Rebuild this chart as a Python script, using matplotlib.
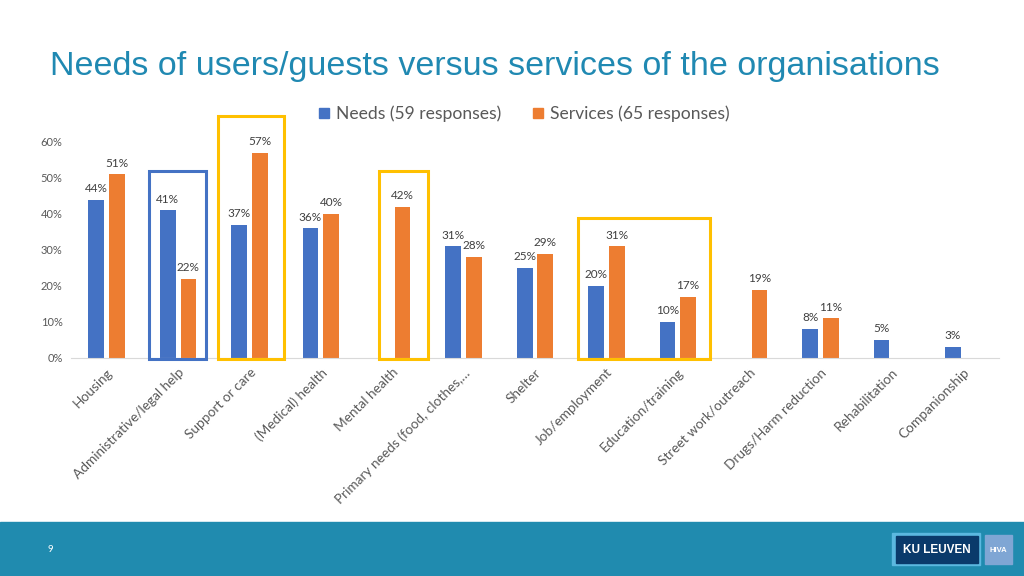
import matplotlib
matplotlib.use("Agg")
import matplotlib.pyplot as plt
from matplotlib.patches import Rectangle

plt.rcParams['font.family'] = ['Lato', 'DejaVu Sans']

# data (percent of respondents)
categories = ['Housing', 'Administrative/legal help', 'Support or care', '(Medical) health',
              'Mental health', 'Primary needs (food, clothes,…', 'Shelter', 'Job/employment',
              'Education/training', 'Street work/outreach', 'Drugs/Harm reduction',
              'Rehabilitation', 'Companionship']
needs = [44, 41, 37, 36, None, 31, 25, 20, 10, None, 8, 5, 3]
services = [51, 22, 57, 40, 42, 28, 29, 31, 17, 19, 11, None, None]
yticks = [0, 10, 20, 30, 40, 50, 60]

BLUE = '#4472C4'
ORANGE = '#ED7D31'
YELLOW = '#FFC000'
GREY = '#595959'

fig = plt.figure(figsize=(10.24, 5.76), dpi=100)
ax = fig.add_axes([71 / 1024, 1 - 358 / 576, 928 / 1024, 216 / 576])

w = 0.22
off = 0.145
for i in range(len(categories)):
    for vals, sign, color in ((needs, -1, BLUE), (services, 1, ORANGE)):
        v = vals[i]
        if v is None:
            continue
        ax.bar(i + sign * off, v, w, color=color, zorder=2)
        ax.text(i + sign * off, v + 1.6, f'{v}%', ha='center', va='bottom',
                fontsize=8.5, color='#404040', clip_on=False)

ax.set_xlim(-0.5, len(categories) - 0.5)
ax.set_ylim(0, 60)
ax.set_yticks(yticks)
ax.set_yticklabels([f'{t}%' for t in yticks], fontsize=8, color=GREY)
ax.set_xticks(range(len(categories)))
ax.set_xticklabels(categories, rotation=45, ha='right', va='top',
                   rotation_mode='anchor', fontsize=9.8, color=GREY)
ax.tick_params(length=0, pad=6)
for s in ['top', 'right', 'left']:
    ax.spines[s].set_visible(False)
ax.spines['bottom'].set_color('#D9D9D9')

# highlight boxes: (x0, x1, top, colour)
highlights = [
    (0.59, 1.39, 51.9, BLUE),
    (1.56, 2.48, 67.2, YELLOW),
    (3.81, 4.50, 51.9, YELLOW),
    (6.60, 8.45, 38.9, YELLOW),
]
for x0, x1, top, col in highlights:
    ax.add_patch(Rectangle((x0, -0.2), x1 - x0, top + 0.2, fill=False,
                           edgecolor=col, linewidth=2.2, clip_on=False, zorder=3))

# legend
handles = [Rectangle((0, 0), 1, 1, color=BLUE), Rectangle((0, 0), 1, 1, color=ORANGE)]
fig.legend(handles, ['Needs (59 responses)', 'Services (65 responses)'],
           loc='center', bbox_to_anchor=(0.5122, 1 - 114 / 576), ncol=2, frameon=False,
           fontsize=12.6, handlelength=0.55, handleheight=0.55, columnspacing=1.85,
           handletextpad=0.4, labelcolor=GREY)

# title
fig.text(50 / 1024, 1 - 67 / 576, 'Needs of users/guests versus services of the organisations',
         fontsize=24.5, color='#2089B2', family=['Liberation Sans', 'DejaVu Sans'],
         ha='left', va='center')

# footer band
fig.patches.append(Rectangle((0, 0), 1, 54 / 576, transform=fig.transFigure,
                             color='#208BAF', zorder=0))
fig.text(50 / 1024, 1 - 549 / 576, '9', fontsize=7, color='white', ha='center', va='center')
fig.patches.append(Rectangle((892 / 1024, 1 - 565 / 576), 88 / 1024, 32 / 576,
                             transform=fig.transFigure, color='#5BB8E0', zorder=1))
fig.patches.append(Rectangle((896 / 1024, 1 - 563 / 576), 82 / 1024, 27 / 576,
                             transform=fig.transFigure, color='#0A3A6B', zorder=2))
fig.text(937 / 1024, 1 - 550 / 576, 'KU LEUVEN', fontsize=8.5, fontweight='bold',
         color='white', ha='center', va='center', family=['Liberation Sans', 'DejaVu Sans'])
fig.patches.append(Rectangle((985 / 1024, 1 - 564 / 576), 27 / 1024, 29 / 576,
                             transform=fig.transFigure, color='#7FA6D4', zorder=1))
fig.text(998 / 1024, 1 - 550 / 576, 'HIVA', fontsize=5.5, fontweight='bold',
         color='white', ha='center', va='center', family=['Liberation Sans', 'DejaVu Sans'])

fig.savefig('out.png', dpi=100)
